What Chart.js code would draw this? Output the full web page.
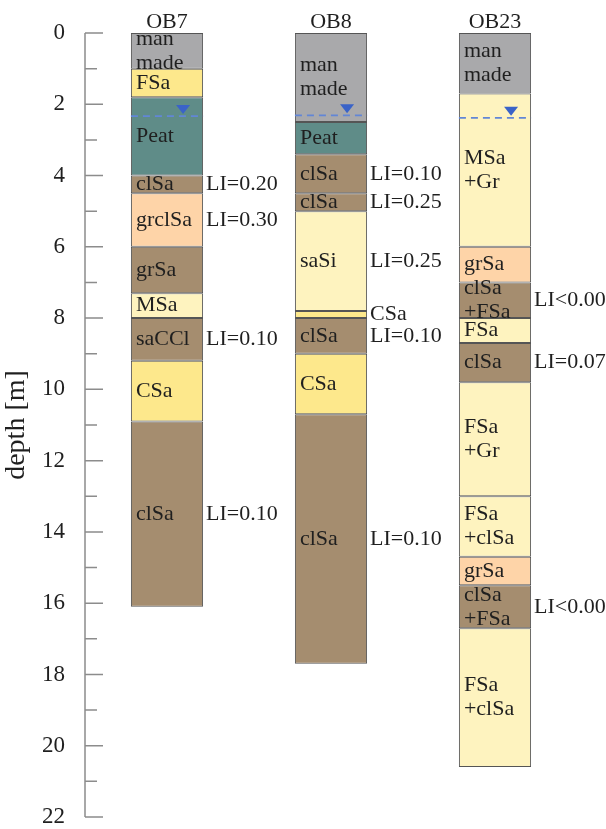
<!DOCTYPE html>
<html>
<head>
<meta charset="utf-8">
<script src="https://cdn.jsdelivr.net/npm/chart.js@4.4.0/dist/chart.umd.min.js"></script>
<style>
    html, body { margin: 0; padding: 0; background: #fff; }
</style>
</head>
<body>
<canvas id="logChart" width="606" height="829"></canvas>
<script>
/**
 * Borehole logs OB7 / OB8 / OB23 drawn as floating bars on a reversed depth axis.
 */

const boreholes = ['OB7', 'OB8', 'OB23'];

// [top, bottom] of each layer in m
const ob7Layers = [[0, 1.0], [1.0, 1.8], [1.8, 4.0], [4.0, 4.5], [4.5, 6.0], [6.0, 7.3], [7.3, 8.0], [8.0, 9.2], [9.2, 10.9], [10.9, 16.1]];
const ob7Soils = ['man\nmade', 'FSa', 'Peat', 'clSa', 'grclSa', 'grSa', 'MSa', 'saCCl', 'CSa', 'clSa'];
const ob7Kinds = ['fill', 'sand', 'peat', 'clay', 'gravel', 'clay', 'light', 'clay', 'sand', 'clay'];
const ob7Li = ['', '', '', 'LI=0.20', 'LI=0.30', '', '', 'LI=0.10', '', 'LI=0.10'];

const ob8Layers = [[0, 2.5], [2.5, 3.4], [3.4, 4.5], [4.5, 5.0], [5.0, 7.8], [7.8, 8.0], [8.0, 9.0], [9.0, 10.7], [10.7, 17.7]];
const ob8Soils = ['man\nmade', 'Peat', 'clSa', 'clSa', 'saSi', 'CSa', 'clSa', 'CSa', 'clSa'];
const ob8Kinds = ['fill', 'peat', 'clay', 'clay', 'light', 'sand', 'clay', 'sand', 'clay'];
const ob8Li = ['', '', 'LI=0.10', 'LI=0.25', 'LI=0.25', '', 'LI=0.10', '', 'LI=0.10'];

const ob23Layers = [[0, 1.7], [1.7, 6.0], [6.0, 7.0], [7.0, 8.0], [8.0, 8.7], [8.7, 9.8], [9.8, 13.0], [13.0, 14.7], [14.7, 15.5], [15.5, 16.7], [16.7, 20.6]];
const ob23Soils = ['man\nmade', 'MSa\n+Gr', 'grSa', 'clSa\n+FSa', 'FSa', 'clSa', 'FSa\n+Gr', 'FSa\n+clSa', 'grSa', 'clSa\n+FSa', 'FSa\n+clSa'];
const ob23Kinds = ['fill', 'light', 'gravel', 'clay', 'light', 'clay', 'light', 'light', 'gravel', 'clay', 'light'];
const ob23Li = ['', '', '', 'LI<0.00', '', 'LI=0.07', '', '', '', 'LI<0.00', ''];

// groundwater level in m
const waterDepths = [2.33, 2.31, 2.38];

const depthTicks = { min: 0, max: 22, step: 1 };

const layers = [ob7Layers, ob8Layers, ob23Layers];
const soils = [ob7Soils, ob8Soils, ob23Soils];
const kinds = [ob7Kinds, ob8Kinds, ob23Kinds];
const liTexts = [ob7Li, ob8Li, ob23Li];

const kindColors = {
    fill: '#a9a9ab',
    peat: '#5f8c88',
    clay: '#a58d6f',
    gravel: '#fed4a8',
    sand: '#fde88c',
    light: '#fef3bf',
};

const SERIF = "'Liberation Serif', 'Times New Roman', serif";
const TEXT = '#1f1f1f';

const maxLayers = Math.max(...layers.map((l) => l.length));
const datasets = [];
for (let i = 0; i < maxLayers; i++) {
    datasets.push({
        data: layers.map((l) => (l[i] ? l[i] : null)),
        backgroundColor: kinds.map((k) => (k[i] ? kindColors[k[i]] : 'transparent')),
        borderColor: '#555555',
        borderWidth: 1,
        borderSkipped: false,
        grouped: false,
        categoryPercentage: 1,
        barPercentage: 0.44,
    });
}

// tick marks on the inside of the depth axis
const depthAxisPlugin = {
    id: 'depthAxis',
    afterDraw(chart) {
        const { ctx, chartArea } = chart;
        const y = chart.scales.y;
        const x0 = chartArea.left;
        ctx.save();
        ctx.strokeStyle = '#8c8c8c';
        ctx.lineWidth = 1.5;
        ctx.beginPath();
        ctx.moveTo(x0, y.getPixelForValue(depthTicks.min));
        ctx.lineTo(x0, y.getPixelForValue(depthTicks.max));
        y.ticks.forEach((t) => {
            const py = y.getPixelForValue(t.value);
            const len = t.value % 2 === 0 ? 18 : 12;
            ctx.moveTo(x0, py);
            ctx.lineTo(x0 + len, py);
        });
        ctx.stroke();
        ctx.restore();
    },
};

// soil names, LI values and water table
const logLabelsPlugin = {
    id: 'logLabels',
    afterDatasetsDraw(chart) {
        const { ctx } = chart;
        const y = chart.scales.y;
        ctx.save();
        ctx.font = `22px ${SERIF}`;
        ctx.fillStyle = TEXT;
        ctx.textBaseline = 'middle';
        ctx.textAlign = 'left';

        layers.forEach((bLayers, j) => {
            bLayers.forEach((range, i) => {
                const bar = chart.getDatasetMeta(i).data[j];
                const left = bar.x - bar.width / 2;
                const right = bar.x + bar.width / 2;
                const mid = y.getPixelForValue((range[0] + range[1]) / 2);
                const thin = range[1] - range[0] < 0.5;
                const lines = soils[j][i].split('\n');
                const lh = 24;
                lines.forEach((ln, k) => {
                    const py = mid + (k - (lines.length - 1) / 2) * lh;
                    ctx.fillText(ln, thin ? right + 3 : left + 5, py);
                });
                if (liTexts[j][i]) {
                    ctx.fillText(liTexts[j][i], right + 3, mid);
                }
            });

            // groundwater level
            const bar = chart.getDatasetMeta(0).data[j];
            const left = bar.x - bar.width / 2;
            const right = bar.x + bar.width / 2;
            const wy = y.getPixelForValue(waterDepths[j]);
            ctx.strokeStyle = '#6286d6';
            ctx.lineWidth = 1.8;
            ctx.setLineDash([7, 5]);
            ctx.beginPath();
            ctx.moveTo(left, wy);
            ctx.lineTo(right, wy);
            ctx.stroke();
            ctx.setLineDash([]);
            const cx = right - 20;
            ctx.fillStyle = '#3a63c8';
            ctx.beginPath();
            ctx.moveTo(cx - 7, wy - 11);
            ctx.lineTo(cx + 7, wy - 11);
            ctx.lineTo(cx, wy - 2);
            ctx.closePath();
            ctx.fill();
            ctx.fillStyle = TEXT;
        });
        ctx.restore();
    },
};

const ctx = document.getElementById('logChart').getContext('2d');
new Chart(ctx, {
    type: 'bar',
    data: { labels: boreholes, datasets },
    options: {
        responsive: false,
        animation: false,
        devicePixelRatio: 1,
        layout: { padding: { left: 0, right: 29, top: 0, bottom: 12 } },
        plugins: { legend: { display: false }, tooltip: { enabled: false } },
        scales: {
            x: {
                position: 'top',
                grid: { display: false, drawTicks: false },
                border: { display: false },
                ticks: { font: { family: SERIF, size: 22 }, color: TEXT, padding: -2 },
                afterFit: (s) => { s.height = 33; },
            },
            y: {
                reverse: true,
                min: depthTicks.min,
                max: depthTicks.max,
                grid: { display: false, drawTicks: false },
                border: { display: false },
                ticks: {
                    stepSize: depthTicks.step,
                    autoSkip: false,
                    padding: 20,
                    font: { family: SERIF, size: 23 },
                    color: TEXT,
                    callback: (v) => (v % 2 === 0 ? v : ''),
                },
                title: {
                    display: true,
                    text: 'depth [m]',
                    font: { family: SERIF, size: 28 },
                    color: TEXT,
                    padding: 0,
                },
                afterFit: (s) => {
                    s.width = 85;
                    s.paddingTop = 0;
                    s.paddingBottom = 0;
                },
            },
        },
    },
    plugins: [depthAxisPlugin, logLabelsPlugin],
});
</script>
</body>
</html>
